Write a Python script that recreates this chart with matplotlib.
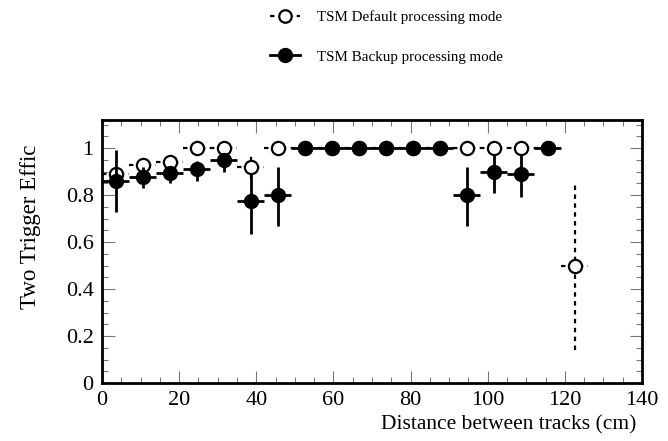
import numpy as np
import matplotlib
matplotlib.use("Agg")
import matplotlib.pyplot as plt
from matplotlib.lines import Line2D
from matplotlib.ticker import MultipleLocator

# Bin centres (cm), bin half-width 3.5 cm
distance = [3.5, 10.5, 17.5, 24.5, 31.5, 38.5, 45.5, 52.5, 59.5, 66.5,
            73.5, 80.5, 87.5, 94.5, 101.5, 108.5, 115.5, 122.5]
half_width = 3.5

# TSM default processing mode (open circles)
default_eff = [0.89, 0.93, 0.94, 1.0, 1.0, 0.92, 1.0, 1.0, 1.0, 1.0,
               1.0, 1.0, 1.0, 1.0, 1.0, 1.0, 1.0, 0.50]
default_err_lo = [0.04, 0.03, 0.03, 0.0, 0.0, 0.05, 0.0, 0.0, 0.0, 0.0,
                  0.0, 0.0, 0.0, 0.0, 0.0, 0.0, 0.0, 0.36]
default_err_hi = [0.04, 0.03, 0.03, 0.0, 0.0, 0.05, 0.0, 0.0, 0.0, 0.0,
                  0.0, 0.0, 0.0, 0.0, 0.0, 0.0, 0.0, 0.35]

# TSM backup processing mode (filled circles), no entry in the last bin
backup_eff = [0.86, 0.875, 0.895, 0.91, 0.948, 0.776, 0.80, 1.0, 1.0, 1.0,
              1.0, 1.0, 1.0, 0.80, 0.90, 0.89, 1.0, np.nan]
backup_err_lo = [0.13, 0.045, 0.045, 0.05, 0.05, 0.14, 0.13, 0.0, 0.0, 0.0,
                 0.0, 0.0, 0.0, 0.13, 0.09, 0.10, 0.0, 0.0]
backup_err_hi = [0.13, 0.045, 0.025, 0.035, 0.03, 0.12, 0.12, 0.0, 0.0, 0.0,
                 0.0, 0.0, 0.0, 0.12, 0.075, 0.085, 0.0, 0.0]

plt.rcParams["font.family"] = ["Liberation Serif", "DejaVu Serif"]

fig = plt.figure(figsize=(6.68, 4.41), dpi=100)
ax = fig.add_axes([0.1527, 0.1315, 0.8084, 0.5965])

open_bars = ax.errorbar(distance, default_eff, xerr=half_width,
                        yerr=[default_err_lo, default_err_hi],
                        fmt="o", ms=9.5, mfc="white", mec="black", mew=1.6,
                        ecolor="black", elinewidth=1.6, capsize=0, zorder=2)
for coll in open_bars[2]:
    coll.set_linestyle((0, (2.0, 2.0)))

ax.errorbar(distance, backup_eff, xerr=half_width,
            yerr=[backup_err_lo, backup_err_hi],
            fmt="o", ms=10, mfc="black", mec="black",
            ecolor="black", elinewidth=2.0, capsize=0, zorder=3)

ax.set_xlim(0, 140)
ax.set_ylim(0, 1.12)
ax.xaxis.set_major_locator(MultipleLocator(20))
ax.xaxis.set_minor_locator(MultipleLocator(5))
ax.yaxis.set_minor_locator(MultipleLocator(0.05))
ax.set_yticks([0, 0.2, 0.4, 0.6, 0.8, 1.0])
ax.set_yticklabels(["0", "0.2", "0.4", "0.6", "0.8", "1"])
ax.tick_params(which="both", direction="in", top=True, right=True,
               labelsize=16, color="#777777", width=0.8)
ax.tick_params(which="major", length=9, pad=6)
ax.tick_params(which="minor", length=4.5)
for spine in ax.spines.values():
    spine.set_linewidth(2.0)

ax.set_xlabel("Distance between tracks (cm)", fontsize=15.5, loc="right")
ax.xaxis.set_label_coords(0.99, -0.16)
ax.xaxis.label.set_verticalalignment("center")
ax.set_ylabel("Two Trigger Effic", fontsize=16.5)
ax.yaxis.set_label_coords(-0.113, 0.595)

handles = [
    Line2D([], [], marker="o", ms=9, mfc="white", mec="black", mew=1.6,
           color="black", lw=1.6, linestyle=(0, (2.0, 2.0))),
    Line2D([], [], marker="o", ms=10, mfc="black", mec="black",
           color="black", lw=2.0),
]
fig.legend(handles, ["TSM Default processing mode", "TSM Backup processing mode"],
           loc="upper left", bbox_to_anchor=(0.384, 1.008), frameon=False,
           fontsize=10.8, handlelength=2.0, handletextpad=1.1, labelspacing=1.75)

fig.savefig("out.png", dpi=100)
